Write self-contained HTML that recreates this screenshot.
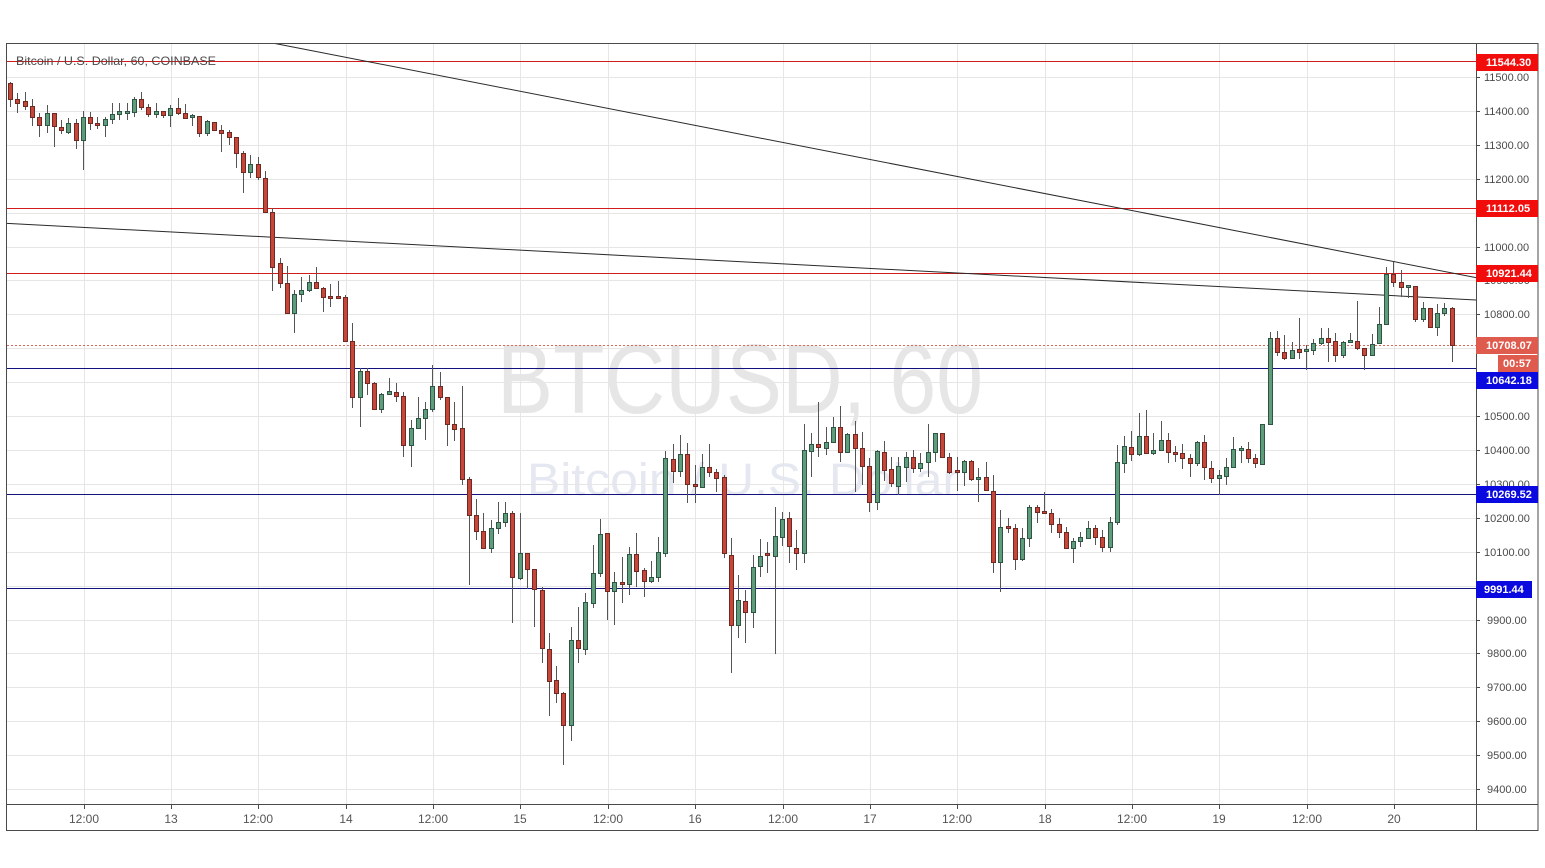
<!DOCTYPE html>
<html><head><meta charset="utf-8">
<style>
html,body{margin:0;padding:0;background:#fff;}
svg{display:block;}
text{font-family:"Liberation Sans",Arial,sans-serif;}
</style></head>
<body>
<svg width="1545" height="868" viewBox="0 0 1545 868" xmlns="http://www.w3.org/2000/svg">
<rect x="0" y="0" width="1545" height="868" fill="#fff"/>
<!-- watermark -->
<text x="497" y="413" font-size="98" fill="#e6e6e6" textLength="486" lengthAdjust="spacingAndGlyphs">BTCUSD, 60</text>
<text x="527" y="495" font-size="45" fill="#e6e8f1" textLength="432" lengthAdjust="spacingAndGlyphs">Bitcoin / U.S. Dollar</text>
<!-- grid -->
<g stroke="#e6e6e6" stroke-width="1" shape-rendering="crispEdges">
<path d="M7 77.5H1476M7 111.5H1476M7 145.5H1476M7 179.5H1476M7 213.5H1476M7 247.5H1476M7 280.5H1476M7 314.5H1476M7 348.5H1476M7 382.5H1476M7 416.5H1476M7 450.5H1476M7 484.5H1476M7 518.5H1476M7 552.5H1476M7 586.5H1476M7 620.5H1476M7 653.5H1476M7 687.5H1476M7 721.5H1476M7 755.5H1476M7 789.5H1476"/>
<path d="M84.5 44V804M171.5 44V804M258.5 44V804M346.5 44V804M433.5 44V804M520.5 44V804M608.5 44V804M695.5 44V804M783.5 44V804M870.5 44V804M957.5 44V804M1045.5 44V804M1132.5 44V804M1219.5 44V804M1307.5 44V804M1394.5 44V804"/>
</g>
<!-- horizontal levels -->
<rect x="7" y="61" width="1469" height="1" fill="#d01c1c"/>
<rect x="7" y="208" width="1469" height="1" fill="#d01c1c"/>
<rect x="7" y="273" width="1469" height="1" fill="#d01c1c"/>
<rect x="7" y="368" width="1469" height="1" fill="#12127c"/>
<rect x="7" y="494" width="1469" height="1" fill="#12127c"/>
<rect x="7" y="588" width="1469" height="1" fill="#12127c"/>
<path d="M7 345.5H1476" stroke="#d8695d" stroke-width="1" stroke-dasharray="2,2" shape-rendering="crispEdges"/>
<!-- trend lines -->
<path d="M275 43.5L1476 277.6M7 223.4L1476 300" stroke="#2a2a2a" stroke-width="1" fill="none"/>
<!-- title -->
<text x="16" y="65" font-size="12" fill="#4a4a4a" textLength="200" lengthAdjust="spacingAndGlyphs">Bitcoin / U.S. Dollar, 60, COINBASE</text>
<!-- wicks -->
<path stroke="#555" stroke-width="1" fill="none" d="M10.5 82V107M17.5 93V113M25.5 92V110M32.5 99V126M39.5 113V137M47.5 105V133M54.5 113V147M61.5 120V134M68.5 118V134M76.5 119V149M83.5 111V170M90.5 112V130M97.5 117V129M105.5 117V137M112.5 103V124M119.5 103V120M127.5 103V120M134.5 97V117M141.5 92V110M148.5 104V117M156.5 103V118M163.5 111V118M170.5 105V127M178.5 98V115M185.5 104V119M192.5 114V126M199.5 116V137M207.5 120V136M214.5 122V131M221.5 125V152M229.5 130V145M236.5 137V168M243.5 151V193M250.5 155V178M258.5 157V180M265.5 171V212M272.5 208V291M280.5 258V288M287.5 266V313M294.5 290V333M301.5 277V302M309.5 275V292M316.5 267V289M323.5 287V312M330.5 284V307M338.5 281V298M345.5 295V341M352.5 323V408M360.5 368V427M367.5 368V395M374.5 382V409M381.5 393V413M389.5 378V394M396.5 383V402M403.5 392V457M411.5 420V467M418.5 397V429M425.5 402V440M432.5 365V412M440.5 372V400M447.5 397V446M454.5 402V441M462.5 386V485M469.5 477V585M476.5 499V540M483.5 513V548M491.5 520V553M498.5 502V534M505.5 502V527M512.5 511V623M520.5 513V580M527.5 553V589M534.5 569V627M542.5 587V663M549.5 633V716M556.5 666V703M563.5 692V765M571.5 627V741M578.5 607V663M585.5 593V655M593.5 545V608M600.5 519V577M607.5 533V620M614.5 572V625M622.5 557V603M629.5 547V595M636.5 533V587M644.5 568V597M651.5 561V583M658.5 537V582M665.5 451V557M673.5 444V483M680.5 435V477M687.5 443V503M695.5 465V503M702.5 454V487M709.5 444V477M716.5 469V492M724.5 475V558M731.5 538V673M738.5 575V638M745.5 590V643M753.5 555V628M760.5 539V577M767.5 542V573M775.5 507V654M782.5 512V546M789.5 512V563M796.5 530V570M804.5 424V563M811.5 433V477M818.5 402V457M826.5 427V455M833.5 417V443M840.5 406V462M847.5 433V453M855.5 421V492M862.5 432V485M869.5 458V512M877.5 450V510M884.5 441V481M891.5 457V487M898.5 457V495M906.5 452V482M913.5 450V473M920.5 453V472M928.5 424V477M935.5 433V462M942.5 433V457M949.5 453V474M957.5 457V491M964.5 460V486M971.5 460V481M978.5 468V502M986.5 462V491M993.5 475V573M1000.5 510V592M1008.5 518V533M1015.5 524V570M1022.5 528V561M1029.5 505V547M1037.5 505V523M1044.5 492V513M1051.5 509V533M1059.5 518V538M1066.5 527V548M1073.5 538V563M1080.5 532V547M1088.5 521V538M1095.5 525V545M1102.5 530V552M1110.5 517V552M1117.5 445V525M1124.5 436V473M1131.5 431V461M1139.5 413V456M1146.5 410V453M1153.5 433V455M1161.5 421V450M1168.5 433V463M1175.5 446V462M1182.5 444V469M1190.5 454V477M1197.5 441V466M1204.5 435V480M1211.5 461V483M1219.5 470V495M1226.5 458V485M1233.5 437V467M1241.5 446V463M1248.5 442V463M1255.5 454V468M1262.5 424V465M1270.5 332V425M1277.5 331V356M1284.5 335V360M1292.5 342V359M1299.5 318V359M1306.5 345V370M1313.5 339V355M1321.5 328V345M1328.5 328V362M1335.5 333V362M1343.5 341V358M1350.5 333V343M1357.5 301V350M1364.5 348V370M1372.5 334V356M1379.5 307V344M1386.5 267V325M1393.5 262V287M1401.5 270V297M1408.5 285V298M1415.5 286V322M1423.5 302V322M1430.5 308V327M1437.5 304V336M1444.5 303V316M1452.5 307V362"/>
<!-- red bodies -->
<path fill="#c6473a" stroke="#6e2a22" stroke-width="1" d="M8.5 83.5h4V99.5h-4zM15.5 99.5h4V103.5h-4zM23.5 101.5h4V106.5h-4zM30.5 106.5h4V117.5h-4zM37.5 117.5h4V125.5h-4zM52.5 113.5h4V126.5h-4zM59.5 127.5h4V130.5h-4zM74.5 123.5h4V140.5h-4zM88.5 117.5h4V123.5h-4zM95.5 123.5h4V125.5h-4zM139.5 99.5h4V107.5h-4zM146.5 107.5h4V114.5h-4zM161.5 111.5h4V115.5h-4zM176.5 108.5h4V113.5h-4zM183.5 113.5h4V118.5h-4zM197.5 116.5h4V133.5h-4zM212.5 122.5h4V130.5h-4zM219.5 130.5h4V133.5h-4zM227.5 132.5h4V137.5h-4zM234.5 137.5h4V153.5h-4zM241.5 153.5h4V172.5h-4zM256.5 164.5h4V177.5h-4zM263.5 178.5h4V212.5h-4zM270.5 212.5h4V267.5h-4zM278.5 263.5h4V283.5h-4zM285.5 283.5h4V313.5h-4zM314.5 282.5h4V288.5h-4zM321.5 288.5h4V297.5h-4zM328.5 296.5h4V298.5h-4zM336.5 296.5h4V298.5h-4zM343.5 297.5h4V341.5h-4zM350.5 341.5h4V397.5h-4zM365.5 371.5h4V383.5h-4zM372.5 383.5h4V409.5h-4zM394.5 392.5h4V396.5h-4zM401.5 396.5h4V445.5h-4zM438.5 386.5h4V397.5h-4zM445.5 397.5h4V424.5h-4zM452.5 424.5h4V429.5h-4zM460.5 428.5h4V479.5h-4zM467.5 479.5h4V515.5h-4zM474.5 515.5h4V531.5h-4zM481.5 531.5h4V548.5h-4zM510.5 513.5h4V577.5h-4zM525.5 553.5h4V569.5h-4zM532.5 569.5h4V589.5h-4zM540.5 590.5h4V648.5h-4zM547.5 649.5h4V681.5h-4zM554.5 680.5h4V693.5h-4zM561.5 693.5h4V725.5h-4zM576.5 640.5h4V648.5h-4zM605.5 533.5h4V591.5h-4zM620.5 582.5h4V584.5h-4zM634.5 554.5h4V571.5h-4zM642.5 570.5h4V581.5h-4zM671.5 459.5h4V471.5h-4zM685.5 454.5h4V484.5h-4zM693.5 484.5h4V486.5h-4zM707.5 467.5h4V472.5h-4zM714.5 472.5h4V478.5h-4zM722.5 477.5h4V553.5h-4zM729.5 555.5h4V625.5h-4zM743.5 601.5h4V612.5h-4zM765.5 553.5h4V555.5h-4zM787.5 518.5h4V546.5h-4zM794.5 548.5h4V553.5h-4zM816.5 444.5h4V447.5h-4zM838.5 427.5h4V452.5h-4zM853.5 434.5h4V448.5h-4zM860.5 448.5h4V466.5h-4zM867.5 466.5h4V502.5h-4zM882.5 452.5h4V470.5h-4zM889.5 469.5h4V483.5h-4zM911.5 457.5h4V468.5h-4zM940.5 433.5h4V457.5h-4zM947.5 457.5h4V472.5h-4zM955.5 470.5h4V472.5h-4zM969.5 461.5h4V479.5h-4zM984.5 477.5h4V490.5h-4zM991.5 491.5h4V562.5h-4zM1006.5 526.5h4V528.5h-4zM1013.5 528.5h4V559.5h-4zM1035.5 507.5h4V512.5h-4zM1042.5 511.5h4V513.5h-4zM1049.5 513.5h4V524.5h-4zM1057.5 524.5h4V532.5h-4zM1064.5 532.5h4V548.5h-4zM1093.5 528.5h4V537.5h-4zM1100.5 537.5h4V547.5h-4zM1129.5 447.5h4V454.5h-4zM1144.5 436.5h4V453.5h-4zM1166.5 440.5h4V452.5h-4zM1173.5 452.5h4V454.5h-4zM1180.5 453.5h4V458.5h-4zM1188.5 458.5h4V463.5h-4zM1202.5 442.5h4V467.5h-4zM1209.5 468.5h4V478.5h-4zM1246.5 449.5h4V458.5h-4zM1253.5 458.5h4V463.5h-4zM1275.5 338.5h4V352.5h-4zM1282.5 352.5h4V358.5h-4zM1297.5 349.5h4V352.5h-4zM1326.5 338.5h4V342.5h-4zM1333.5 341.5h4V355.5h-4zM1355.5 341.5h4V348.5h-4zM1362.5 348.5h4V355.5h-4zM1391.5 274.5h4V282.5h-4zM1399.5 282.5h4V287.5h-4zM1413.5 286.5h4V319.5h-4zM1428.5 308.5h4V327.5h-4zM1450.5 308.5h4V345.5h-4z"/>
<!-- green bodies -->
<path fill="#5e9c7b" stroke="#2e5543" stroke-width="1" d="M45.5 113.5h4V125.5h-4zM66.5 123.5h4V132.5h-4zM81.5 117.5h4V140.5h-4zM103.5 119.5h4V125.5h-4zM110.5 114.5h4V119.5h-4zM117.5 111.5h4V114.5h-4zM125.5 111.5h4V113.5h-4zM132.5 99.5h4V112.5h-4zM154.5 111.5h4V114.5h-4zM168.5 108.5h4V115.5h-4zM190.5 115.5h4V117.5h-4zM205.5 121.5h4V133.5h-4zM248.5 164.5h4V172.5h-4zM292.5 294.5h4V313.5h-4zM299.5 290.5h4V294.5h-4zM307.5 282.5h4V290.5h-4zM358.5 371.5h4V397.5h-4zM379.5 394.5h4V409.5h-4zM387.5 391.5h4V394.5h-4zM409.5 428.5h4V445.5h-4zM416.5 418.5h4V428.5h-4zM423.5 409.5h4V418.5h-4zM430.5 386.5h4V409.5h-4zM489.5 528.5h4V548.5h-4zM496.5 522.5h4V528.5h-4zM503.5 513.5h4V522.5h-4zM518.5 553.5h4V578.5h-4zM569.5 640.5h4V725.5h-4zM583.5 602.5h4V649.5h-4zM591.5 573.5h4V603.5h-4zM598.5 534.5h4V573.5h-4zM612.5 582.5h4V591.5h-4zM627.5 554.5h4V584.5h-4zM649.5 577.5h4V581.5h-4zM656.5 552.5h4V577.5h-4zM663.5 458.5h4V553.5h-4zM678.5 454.5h4V471.5h-4zM700.5 467.5h4V487.5h-4zM736.5 600.5h4V625.5h-4zM751.5 567.5h4V612.5h-4zM758.5 556.5h4V566.5h-4zM773.5 536.5h4V556.5h-4zM780.5 519.5h4V537.5h-4zM802.5 450.5h4V553.5h-4zM809.5 444.5h4V451.5h-4zM824.5 442.5h4V448.5h-4zM831.5 427.5h4V442.5h-4zM845.5 434.5h4V452.5h-4zM875.5 451.5h4V502.5h-4zM896.5 466.5h4V486.5h-4zM904.5 457.5h4V467.5h-4zM918.5 463.5h4V468.5h-4zM926.5 452.5h4V462.5h-4zM933.5 433.5h4V452.5h-4zM962.5 461.5h4V472.5h-4zM976.5 477.5h4V479.5h-4zM998.5 527.5h4V562.5h-4zM1020.5 538.5h4V559.5h-4zM1027.5 507.5h4V538.5h-4zM1071.5 541.5h4V548.5h-4zM1078.5 537.5h4V541.5h-4zM1086.5 528.5h4V538.5h-4zM1108.5 522.5h4V547.5h-4zM1115.5 462.5h4V522.5h-4zM1122.5 446.5h4V463.5h-4zM1137.5 436.5h4V454.5h-4zM1151.5 450.5h4V453.5h-4zM1159.5 440.5h4V450.5h-4zM1195.5 442.5h4V463.5h-4zM1217.5 475.5h4V478.5h-4zM1224.5 467.5h4V476.5h-4zM1231.5 449.5h4V467.5h-4zM1239.5 448.5h4V450.5h-4zM1260.5 424.5h4V464.5h-4zM1268.5 338.5h4V424.5h-4zM1290.5 350.5h4V358.5h-4zM1304.5 349.5h4V351.5h-4zM1311.5 343.5h4V350.5h-4zM1319.5 338.5h4V343.5h-4zM1341.5 342.5h4V355.5h-4zM1348.5 340.5h4V342.5h-4zM1370.5 344.5h4V355.5h-4zM1377.5 324.5h4V343.5h-4zM1384.5 274.5h4V324.5h-4zM1406.5 285.5h4V287.5h-4zM1421.5 308.5h4V319.5h-4zM1435.5 313.5h4V327.5h-4zM1442.5 308.5h4V313.5h-4z"/>
<!-- right axis area background -->
<rect x="1477" y="44" width="61" height="760" fill="#fff"/>
<!-- frame -->
<g stroke="#4a4a4a" stroke-width="1" fill="none" shape-rendering="crispEdges">
<rect x="6.5" y="43.5" width="1531.5" height="787"/>
<path d="M1476.5 43V831M7 804.5H1538"/>
<path d="M1476 77.5h4M1476 111.5h4M1476 145.5h4M1476 179.5h4M1476 247.5h4M1476 280.5h4M1476 314.5h4M1476 416.5h4M1476 450.5h4M1476 484.5h4M1476 518.5h4M1476 552.5h4M1476 620.5h4M1476 653.5h4M1476 687.5h4M1476 721.5h4M1476 755.5h4M1476 789.5h4"/>
<path d="M84.5 805v4M171.5 805v4M258.5 805v4M346.5 805v4M433.5 805v4M520.5 805v4M608.5 805v4M695.5 805v4M783.5 805v4M870.5 805v4M957.5 805v4M1045.5 805v4M1132.5 805v4M1219.5 805v4M1307.5 805v4M1394.5 805v4"/>
</g>
<!-- price labels -->
<g font-size="11" fill="#4a4a4a">
<text x="1484" y="81">11500.00</text>
<text x="1484" y="115">11400.00</text>
<text x="1484" y="149">11300.00</text>
<text x="1484" y="183">11200.00</text>
<text x="1484" y="251">11000.00</text>
<text x="1484" y="284">10900.00</text>
<text x="1484" y="318">10800.00</text>
<text x="1484" y="420">10500.00</text>
<text x="1484" y="454">10400.00</text>
<text x="1484" y="488">10300.00</text>
<text x="1484" y="522">10200.00</text>
<text x="1484" y="556">10100.00</text>
<text x="1487" y="624">9900.00</text>
<text x="1487" y="657">9800.00</text>
<text x="1487" y="691">9700.00</text>
<text x="1487" y="725">9600.00</text>
<text x="1487" y="759">9500.00</text>
<text x="1487" y="793">9400.00</text>
</g>
<!-- label boxes -->
<rect x="1476" y="54" width="62" height="17" fill="#f20d0d"/>
<rect x="1476" y="200" width="62" height="17" fill="#f20d0d"/>
<rect x="1476" y="265" width="62" height="17" fill="#f20d0d"/>
<rect x="1476" y="337" width="62" height="17" fill="#df5b4e"/>
<rect x="1498" y="355" width="40" height="17" fill="#df5b4e"/>
<rect x="1476" y="372" width="62" height="17" fill="#0a0ae0"/>
<rect x="1476" y="486" width="62" height="17" fill="#0a0ae0"/>
<rect x="1476" y="581" width="56" height="17" fill="#0a0ae0"/>
<g font-size="11" font-weight="bold" fill="#fff">
<text x="1486" y="66">11544.30</text>
<text x="1486" y="212">11112.05</text>
<text x="1486" y="277">10921.44</text>
<text x="1486" y="349">10708.07</text>
<text x="1503" y="367">00:57</text>
<text x="1486" y="384">10642.18</text>
<text x="1486" y="498">10269.52</text>
<text x="1484" y="593">9991.44</text>
</g>
<!-- time labels -->
<g font-size="12" fill="#555" text-anchor="middle">
<text x="84" y="823">12:00</text>
<text x="171" y="823">13</text>
<text x="258" y="823">12:00</text>
<text x="346" y="823">14</text>
<text x="433" y="823">12:00</text>
<text x="520" y="823">15</text>
<text x="608" y="823">12:00</text>
<text x="695" y="823">16</text>
<text x="783" y="823">12:00</text>
<text x="870" y="823">17</text>
<text x="957" y="823">12:00</text>
<text x="1045" y="823">18</text>
<text x="1132" y="823">12:00</text>
<text x="1219" y="823">19</text>
<text x="1307" y="823">12:00</text>
<text x="1394" y="823">20</text>
</g>
</svg>
</body></html>
